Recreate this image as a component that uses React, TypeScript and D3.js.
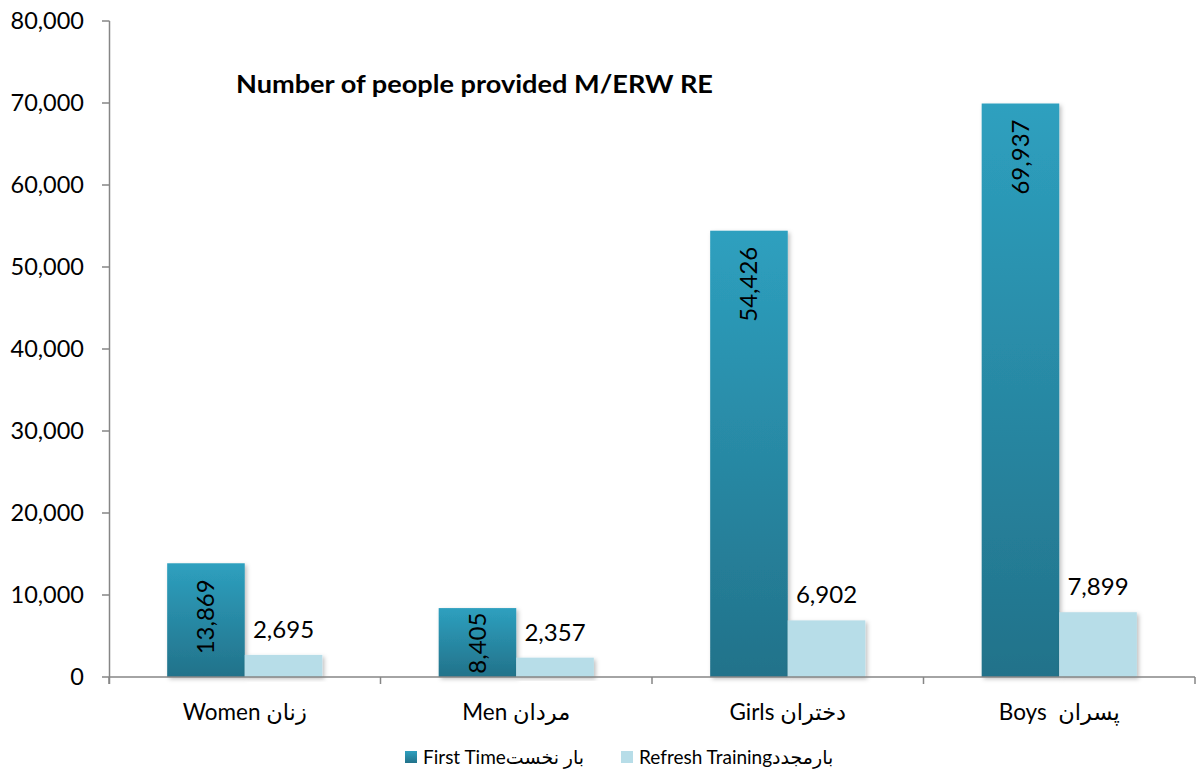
import React from 'react';
import * as d3 from 'd3';

const categories = ['Women زنان', 'Men مردان', 'Girls دختران', 'Boys  پسران'];
const seriesNames = ['First Time', 'Refresh Training'];
const legendLabels = ['First Timeبار نخست', 'Refresh Trainingبارمجدد'];
const firstTime = [13869, 8405, 54426, 69937];
const refresh = [2695, 2357, 6902, 7899];
const yTicks = [0, 10000, 20000, 30000, 40000, 50000, 60000, 70000, 80000];
const title = 'Number of people provided M/ERW RE';

const W = 1197;
const H = 769;
const FONT = 'Lato, "DejaVu Sans", sans-serif';
const LABEL_SIZE = 24;

export default function App() {
  const x = d3.scaleBand<string>().domain(categories).range([109, 1195]).padding(0);
  const inner = d3.scaleBand<string>().domain(seriesNames).range([0, x.step()]).paddingInner(0).paddingOuter(0.75);
  const y = d3.scaleLinear().domain([0, 80000]).range([677, 21]);
  const fmt = d3.format(',');

  const boundaries = categories.map(c => x(c) as number).concat([1195]);

  return (
    <div style={{ position: 'absolute', left: 0, top: 0 }}>
      <svg width={W} height={H} style={{ display: 'block', fontFamily: FONT }}>
        <defs>
          <linearGradient id="ftGrad" x1="0" y1="0" x2="0" y2="1">
            <stop offset="0" stopColor="#2ea0bf" />
            <stop offset="1" stopColor="#22728a" />
          </linearGradient>
          <filter id="shadow" x="-10%" y="-10%" width="130%" height="130%">
            <feDropShadow dx="2" dy="2" stdDeviation="2" floodColor="#000" floodOpacity="0.25" />
          </filter>
        </defs>

        {/* y axis */}
        <line x1={109.5} x2={109.5} y1={y(80000)} y2={y(0) + 7} stroke="#868686" strokeWidth={1.5} />
        {yTicks.map(t => (
          <g key={t}>
            <line x1={102} x2={109.5} y1={y(t)} y2={y(t)} stroke="#868686" strokeWidth={1.5} />
            <text x={84} y={y(t)} dy="0.35em" textAnchor="end" fontSize={23.5} fill="#000">{fmt(t)}</text>
          </g>
        ))}

        {/* bars */}
        {categories.map((c, i) => {
          const x0 = x(c) as number;
          const bx1 = x0 + (inner(seriesNames[0]) as number);
          const bx2 = x0 + (inner(seriesNames[1]) as number);
          const bw = inner.bandwidth();
          const h1 = y(0) - y(firstTime[i]);
          const labelLen = fmt(firstTime[i]).length * LABEL_SIZE * 0.5;
          const pad = Math.min(16, (h1 - labelLen) / 2);
          return (
            <g key={c}>
              <rect x={bx1} y={y(firstTime[i])} width={bw} height={h1} fill="url(#ftGrad)" filter="url(#shadow)" />
              <rect x={bx2} y={y(refresh[i])} width={bw} height={y(0) - y(refresh[i])} fill="#b7dde8" filter="url(#shadow)" />
              <text transform={`translate(${bx1 + bw / 2},${y(firstTime[i]) + pad}) rotate(-90)`} dy="0.35em" textAnchor="end" fontSize={LABEL_SIZE} fill="#000">{fmt(firstTime[i])}</text>
              <text x={bx2 + bw / 2} y={y(refresh[i]) - 17} textAnchor="middle" fontSize={LABEL_SIZE} fill="#000">{fmt(refresh[i])}</text>
            </g>
          );
        })}

        {/* x axis */}
        <line x1={109} x2={1195} y1={y(0)} y2={y(0)} stroke="#868686" strokeWidth={1.5} />
        {boundaries.map((b, i) => (
          <line key={i} x1={b} x2={b} y1={y(0)} y2={y(0) + 7} stroke="#868686" strokeWidth={1.5} />
        ))}
        {categories.map(c => (
          <text key={c} x={(x(c) as number) + x.bandwidth() / 2} y={720} textAnchor="middle" fontSize={22.5} fill="#000" direction="ltr" style={{ whiteSpace: 'pre' }}>{c}</text>
        ))}

        {/* title */}
        <text x={236} y={93} fontSize={24} fontWeight="bold" fill="#000" textLength={477} lengthAdjust="spacingAndGlyphs">{title}</text>

        {/* legend */}
        {legendLabels.map((l, i) => {
          const lx = i === 0 ? 405 : 621;
          return (
            <g key={l}>
              <rect x={lx} y={751} width={12} height={12} fill={i === 0 ? 'url(#ftGrad)' : '#b7dde8'} />
              <text x={lx + 18} y={764} fontSize={19} fill="#000" direction="ltr">{l}</text>
            </g>
          );
        })}
      </svg>
    </div>
  );
}
